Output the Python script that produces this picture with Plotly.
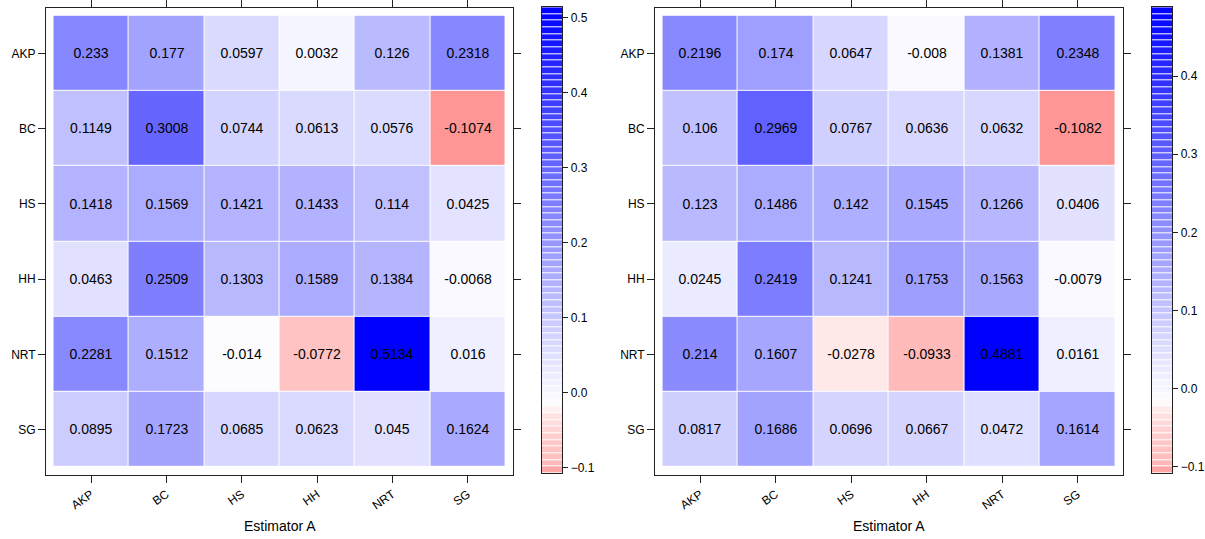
import numpy as np
import plotly.graph_objects as go

W, H = 1205, 539

categories = ["AKP", "BC", "HS", "HH", "NRT", "SG"]
x_title = "Estimator A"

left_values = [
    [0.233, 0.177, 0.0597, 0.0032, 0.126, 0.2318],
    [0.1149, 0.3008, 0.0744, 0.0613, 0.0576, -0.1074],
    [0.1418, 0.1569, 0.1421, 0.1433, 0.114, 0.0425],
    [0.0463, 0.2509, 0.1303, 0.1589, 0.1384, -0.0068],
    [0.2281, 0.1512, -0.014, -0.0772, 0.5134, 0.016],
    [0.0895, 0.1723, 0.0685, 0.0623, 0.045, 0.1624],
]
right_values = [
    [0.2196, 0.174, 0.0647, -0.008, 0.1381, 0.2348],
    [0.106, 0.2969, 0.0767, 0.0636, 0.0632, -0.1082],
    [0.123, 0.1486, 0.142, 0.1545, 0.1266, 0.0406],
    [0.0245, 0.2419, 0.1241, 0.1753, 0.1563, -0.0079],
    [0.214, 0.1607, -0.0278, -0.0933, 0.4881, 0.0161],
    [0.0817, 0.1686, 0.0696, 0.0667, 0.0472, 0.1614],
]
colorbar_ticks = [-0.1, 0.0, 0.1, 0.2, 0.3, 0.4, 0.5]
N_BANDS = 70

FONT = "Liberation Sans, Arial, Helvetica, sans-serif"
LINE = "#222222"


def make_scale(zmin, zmax):
    anchors = [(zmin, (255, 150, 150)), (-0.1, (255, 178, 178)), (-0.09, (255, 190, 190)),
               (-0.07, (255, 198, 198)), (-0.03, (255, 228, 228)), (-0.017, (255, 252, 252)),
               (-0.012, (250, 250, 255)), (0.0, (247, 247, 255)),
               (zmax, (0, 0, 255))]
    anchors = [a for a in anchors if zmin <= a[0] <= zmax]
    anchors.sort(key=lambda a: a[0])
    return [[(v - zmin) / (zmax - zmin), "rgb(%d,%d,%d)" % c] for v, c in anchors]


def px_x(a, b):
    return [a / W, b / W]


def px_y(top, bottom):
    return [1 - bottom / H, 1 - top / H]


fig = go.Figure()

panels = [
    dict(vals=left_values, xd=(46, 513), yd=(8.3, 476.5), cb=(541.7, 562.3), title_x=280, ax=1),
    dict(vals=right_values, xd=(655, 1123), yd=(8.3, 476.5), cb=(1151.7, 1172.3), title_x=889, ax=3),
]

layout = dict(width=W, height=H, margin=dict(l=0, r=0, t=0, b=0),
              paper_bgcolor="white", plot_bgcolor="white", showlegend=False,
              font=dict(family=FONT, size=12, color="black"))
annotations = []

n = len(categories)
idx = list(range(n))
for p in panels:
    vals = np.array(p["vals"])
    zmin, zmax = float(vals.min()), float(vals.max())
    scale = make_scale(zmin, zmax)
    a = p["ax"]
    xa, ya = "x" if a == 1 else "x%d" % a, "y" if a == 1 else "y%d" % a
    xa2, ya2 = "x%d" % (a + 1), "y%d" % (a + 1)
    fig.add_trace(go.Heatmap(
        z=vals, x=idx, y=idx, colorscale=scale, zmin=zmin, zmax=zmax,
        showscale=False, xgap=1, ygap=1,
        text=[[str(v) for v in row] for row in p["vals"]],
        texttemplate="%{text}", textfont=dict(family=FONT, size=14, color="black"),
        hoverinfo="skip", xaxis=xa, yaxis=ya))
    # colour key
    edges = np.linspace(zmin, zmax, N_BANDS + 1)
    mids = (edges[:-1] + edges[1:]) / 2
    fig.add_trace(go.Heatmap(
        z=[[m] for m in mids], x=[0, 1], y=edges, colorscale=scale, zmin=zmin, zmax=zmax,
        showscale=False, ygap=1, hoverinfo="skip", xaxis=xa2, yaxis=ya2))

    axkey = lambda s, k: s + ("axis" if k == 1 else "axis%d" % k)
    pad = 0.1
    layout[axkey("x", a)] = dict(
        domain=px_x(*p["xd"]), range=[-0.5 - pad, n - 0.5 + pad], tickvals=idx,
        ticktext=categories, tickangle=-35, ticks="outside", ticklen=7, tickcolor=LINE,
        showline=True, linecolor=LINE, linewidth=1, mirror="ticks", showgrid=False,
        zeroline=False, anchor=ya, tickfont=dict(size=12))
    layout[axkey("y", a)] = dict(
        domain=px_y(*p["yd"]), range=[n - 0.5 + pad, -0.5 - pad], tickvals=idx,
        ticktext=categories, ticks="outside", ticklen=7, tickcolor=LINE,
        showline=True, linecolor=LINE, linewidth=1, mirror="ticks", showgrid=False,
        zeroline=False, anchor=xa, tickfont=dict(size=12))
    layout[axkey("x", a + 1)] = dict(
        domain=px_x(*p["cb"]), range=[0, 1], showticklabels=False, ticks="",
        showline=True, linecolor=LINE, linewidth=1, mirror=True, showgrid=False,
        zeroline=False, anchor=ya2, fixedrange=True)
    layout[axkey("y", a + 1)] = dict(
        domain=px_y(7.3, 475), range=[zmin, zmax], side="right",
        tickvals=[t for t in colorbar_ticks if zmin <= t <= zmax], tickformat=".1f",
        ticks="outside", ticklen=5, tickcolor=LINE, showline=True, linecolor=LINE,
        linewidth=1, mirror=True, showgrid=False, zeroline=False, anchor=xa2,
        tickfont=dict(size=12))
    annotations.append(dict(text=x_title, x=p["title_x"] / W, y=1 - 528 / H,
                            xref="paper", yref="paper", showarrow=False,
                            font=dict(size=14, family=FONT, color="black"),
                            xanchor="center", yanchor="middle"))

layout["annotations"] = annotations
fig.update_layout(**layout)
fig.write_html("out.html", config={"displayModeBar": False},
               post_script="document.body.style.margin='0';document.body.style.overflow='hidden';")
